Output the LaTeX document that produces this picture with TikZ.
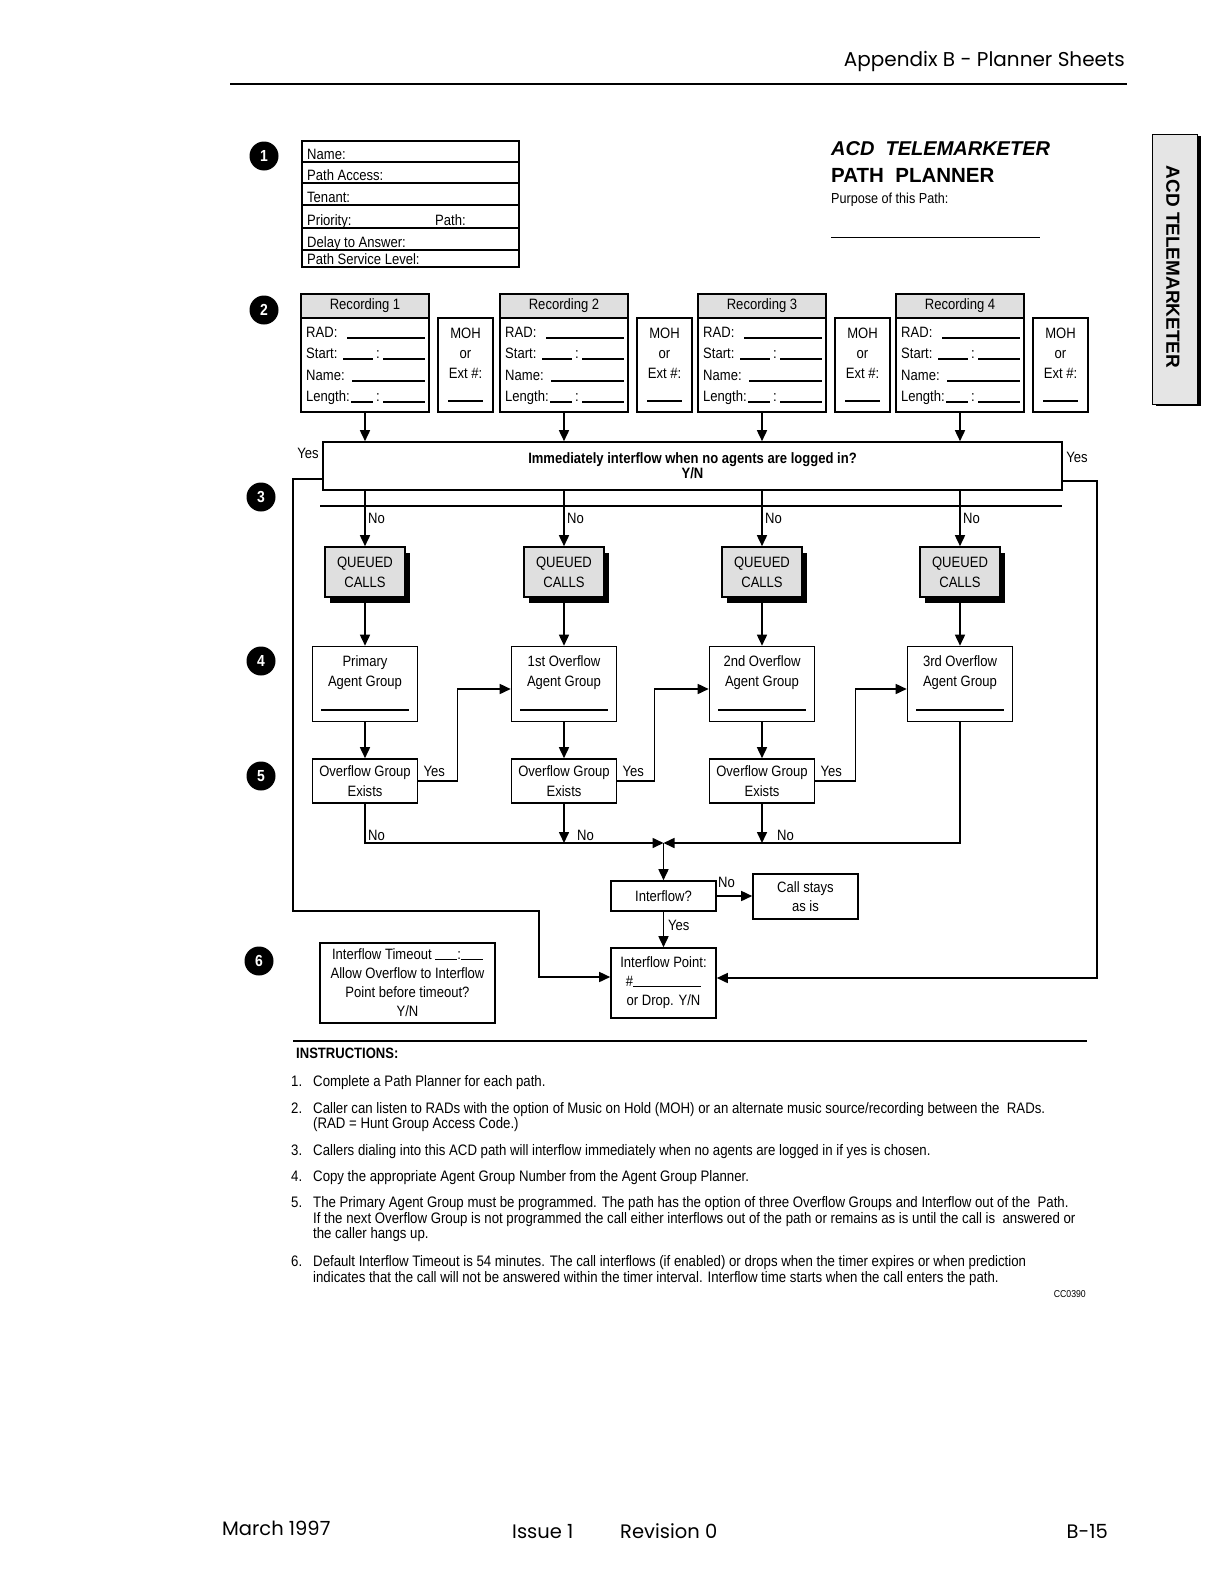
\documentclass[tikz,border=0pt]{standalone}
\usepackage{fontspec}
\setmainfont{Liberation Sans}[FakeStretch=0.87]
\newfontfamily\hdrfont{Poppins}
\newfontfamily\widefont{Liberation Sans}
\usetikzlibrary{arrows.meta,calc,shadows}
\newcommand\fmain{\fontsize{15}{20}\selectfont}
\newcommand\finst{\fontsize{15.2}{16}\selectfont}
\begin{document}
\begin{tikzpicture}[x=1pt,y=-1pt,
  lw/.style={line width=1.6pt},
  thin/.style={line width=1.2pt},
  arr/.style={line width=1.6pt,-{Triangle[length=11pt,width=10pt]}},
  box/.style={draw,line width=1.6pt,inner sep=0pt,align=center,font=\fmain},
  lbl/.style={font=\fmain,inner sep=0pt},
  ins/.style={font=\finst,inner sep=0pt,anchor=base west},
  num/.style={circle,fill=black,minimum size=29pt,inner sep=0pt,text=white,font=\bfseries\fontsize{16}{16}\selectfont},
  qbox/.style={box,fill=gray!25,minimum width=80pt,minimum height=50pt,drop shadow={shadow xshift=5pt,shadow yshift=-6pt,opacity=1,fill=black}},
  agent/.style={box,minimum width=105pt,minimum height=75pt},
  oebox/.style={box,minimum width=105pt,minimum height=44pt},
  foot/.style={font=\hdrfont\fontsize{19.5}{19.5}\selectfont,inner sep=0pt},
]
\useasboundingbox (0,0) rectangle (1213,1582);
\fill[white] (0,0) rectangle (1213,1582);

% header
\node[font=\hdrfont\fontsize{20}{20}\selectfont,anchor=base east,inner sep=0pt] (hdr) at (1125,66) {Appendix B - Planner Sheets};
\draw[line width=2pt] (230,84) -- (1127,84);

% side tab
\node[draw,line width=0.8pt,fill=gray!20,minimum width=45pt,minimum height=270pt,inner sep=0pt,
  drop shadow={shadow xshift=4pt,shadow yshift=-2pt,opacity=1,fill=black}] (tab) at (1174.5,269) {};
\node[rotate=-90,font=\widefont\bfseries\fontsize{19}{19}\selectfont,inner sep=0pt] (tabtxt) at (1173,267) {ACD TELEMARKETER};

% numbered circles
\node[num] (n1) at (264,156) {1};
\node[num] (n2) at (264,310) {2};
\node[num] (n3) at (261,497) {3};
\node[num] (n4) at (261,661) {4};
\node[num] (n5) at (261,776) {5};
\node[num] (n6) at (259,961) {6};

% form 1
\node[draw,line width=1.4pt,minimum width=217pt,minimum height=126pt,inner sep=0pt] (form) at (410.5,204) {};
\foreach \y in {162,183,205,228,250} \draw[thin] (302,\y) -- (519,\y);
\node[lbl,anchor=base west] (f1) at (307,159) {Name:};
\node[lbl,anchor=base west] (f2) at (307,180) {Path Access:};
\node[lbl,anchor=base west] (f3) at (307,202) {Tenant:};
\node[lbl,anchor=base west] (f4) at (307,225) {Priority:};
\node[lbl,anchor=base west] (f4b) at (435,225) {Path:};
\node[lbl,anchor=base west] (f5) at (307,247) {Delay to Answer:};
\node[lbl,anchor=base west] (f6) at (307,264) {Path Service Level:};

% title
\node[anchor=base west,inner sep=0pt,font=\widefont\bfseries\itshape\fontsize{20}{20}\selectfont] (t1) at (831,155) {ACD\ \ TELEMARKETER};
\node[anchor=base west,inner sep=0pt,font=\widefont\bfseries\fontsize{20.5}{20}\selectfont] (t2) at (831,182) {PATH\ \ PLANNER};
\node[lbl,anchor=base west,font=\fontsize{14.5}{16}\selectfont] (t3) at (831,203) {Purpose of this Path:};
\draw[line width=1pt] (831,237) -- (1040,237);

% immediate interflow box
\node[box,font=\bfseries\fontsize{15}{15}\selectfont,minimum width=739pt,minimum height=48pt] (imm) at (692.5,466) {Immediately interflow when no agents are logged in?\\Y/N};
\draw[lw] (320,506) -- (1062,506);
\node[lbl,anchor=base] (yesl) at (308,458) {Yes};
\node[lbl,anchor=base] (yesr) at (1077,462) {Yes};

% columns
\foreach \n/\c/\t in {1/365/Primary,2/564/1st Overflow,3/762/2nd Overflow,4/960/3rd Overflow} {
  \node[box,fill=gray!25,minimum width=128pt,minimum height=24pt] (rh\n) at (\c,306) {Recording \n};
  \node[box,minimum width=128pt,minimum height=94pt] (rb\n) at (\c,365) {};
  \node[box,minimum width=55pt,minimum height=94pt] (moh\n) at (\c+100.5,365) {};
  \node[lbl,anchor=base west] at (\c-59,337) {RAD:};
  \draw[thin] (\c-18,338) -- (\c+60,338);
  \node[lbl,anchor=base west] at (\c-59,358) {Start:};
  \draw[thin] (\c-22,359) -- (\c+8,359);
  \node[lbl,anchor=base] at (\c+13,358) {:};
  \draw[thin] (\c+18,359) -- (\c+60,359);
  \node[lbl,anchor=base west] at (\c-59,380) {Name:};
  \draw[thin] (\c-13,381) -- (\c+60,381);
  \node[lbl,anchor=base west] at (\c-59,401) {Length:};
  \draw[thin] (\c-14,402) -- (\c+8,402);
  \node[lbl,anchor=base] at (\c+13,401) {:};
  \draw[thin] (\c+18,402) -- (\c+60,402);
  \node[lbl,align=center] at (\c+100.5,353) {MOH\\or\\Ext \#:};
  \draw[thin] (\c+83,401) -- (\c+118,401);
  \draw[arr] (rb\n.south) -- (rb\n.south |- imm.north);
  \node[qbox] (q\n) at (\c,572) {QUEUED\\CALLS};
  \draw[arr] (imm.south -| q\n.north) -- (q\n.north);
  \node[lbl,anchor=base west] at (\c+3,523) {No};
  \node[agent] (a\n) at (\c,684) {};
  \node[lbl,align=center] at (\c,673) {\t\\Agent Group};
  \draw[lw] (\c-44,710) -- (\c+44,710);
  \draw[arr] (q\n.south) -- (a\n.north);
}

% overflow exists
\foreach \n/\c in {1/365,2/564,3/762} {
  \node[oebox] (oe\n) at (\c,781) {Overflow Group\\Exists};
  \draw[arr] (a\n.south) -- (oe\n.north);
  \node[lbl,anchor=base west] at ($(oe\n.east)+(5,-5)$) {Yes};
}
\draw[arr] (oe1.east) -- ++(39,0) |- ($(a2.west)+(0,5)$);
\draw[arr] (oe2.east) -- ++(37,0) |- ($(a3.west)+(0,5)$);
\draw[arr] (oe3.east) -- ++(40,0) |- ($(a4.west)+(0,5)$);

% interflow section
\coordinate (J) at (663.5,843);
\node[box,minimum width=105pt,minimum height=30pt] (ifl) at (663.5,896) {Interflow?};
\node[box,minimum width=105pt,minimum height=45pt,font=\fontsize{15}{19}\selectfont] (cs) at (805.5,896.5) {Call stays\\as is};
\node[box,minimum width=105pt,minimum height=70pt,font=\fontsize{15}{19}\selectfont] (ip) at (663.5,983) {Interflow Point:\\\#\rule{68pt}{1.2pt}\\or Drop. Y/N};
\node[box,minimum width=175pt,minimum height=80pt,font=\fontsize{15}{19}\selectfont] (ito) at (407.5,983) {Interflow Timeout \rule{22pt}{1.2pt}:\rule{22pt}{1.2pt}\\Allow Overflow to Interflow\\Point before timeout?\\Y/N};

\draw[arr] (oe1.south) |- (J);
\draw[arr] (oe2.south) -- (oe2.south |- J);
\draw[arr] (oe3.south) -- (oe3.south |- J);
\draw[arr] (a4.south) |- (J);
\node[lbl,anchor=base west] at (368,840) {No};
\node[lbl,anchor=base west] at (577,840) {No};
\node[lbl,anchor=base west] at (777,840) {No};
\draw[arr] (J) -- (ifl.north);
\draw[arr] (ifl.east) -- (cs.west |- ifl.east);
\node[lbl,anchor=base west] at (718,887) {No};
\draw[arr] (ifl.south) -- (ip.north);
\node[lbl,anchor=base west] at (668,930) {Yes};

\coordinate (L1) at (293,911);
\coordinate (L2) at (539,977);
\draw[arr] ($(imm.west)+(0,13)$) -| (L1) -| (L2) -- ($(ip.west)+(0,-6)$);
\coordinate (R1) at (1097,978);
\draw[arr] ($(imm.east)+(0,15)$) -| (R1) -- ($(ip.east)+(0,-5)$);

% instructions
\draw[lw] (293,1041) -- (1087,1041);
\node[ins,font=\bfseries\fontsize{15}{16}\selectfont] (insh) at (296,1058) {INSTRUCTIONS:};
\node[ins] at (291,1086) {1.};
\node[ins] at (313,1086) {Complete a Path Planner for each path.};
\node[ins] at (291,1113) {2.};
\node[ins] at (313,1113) {Caller can listen to RADs with the option of Music on Hold (MOH) or an alternate music source/recording between the\ \ RADs.};
\node[ins] at (313,1128) {(RAD = Hunt Group Access Code.)};
\node[ins] at (291,1155) {3.};
\node[ins] at (313,1155) {Callers dialing into this ACD path will interflow immediately when no agents are logged in if yes is chosen.};
\node[ins] at (291,1181) {4.};
\node[ins] at (313,1181) {Copy the appropriate Agent Group Number from the Agent Group Planner.};
\node[ins] at (291,1207) {5.};
\node[ins] at (313,1207) {The Primary Agent Group must be programmed. The path has the option of three Overflow Groups and Interflow out of the\ \ Path.};
\node[ins] at (313,1223) {If the next Overflow Group is not programmed the call either interflows out of the path or remains as is until the call is\ \ answered or};
\node[ins] at (313,1238) {the caller hangs up.};
\node[ins] at (291,1266) {6.};
\node[ins] at (313,1266) {Default Interflow Timeout is 54 minutes. The call interflows (if enabled) or drops when the timer expires or when prediction};
\node[ins] at (313,1282) {indicates that the call will not be answered within the timer interval. Interflow time starts when the call enters the path.};
\node[font=\fontsize{10}{10}\selectfont,inner sep=0pt,anchor=base east] (cc) at (1086,1297) {CC0390};

% footer
\node[foot,anchor=base west] (fm) at (222,1535) {March 1997};
\node[foot,anchor=base west] (fi) at (512,1538) {Issue 1};
\node[foot,anchor=base west] (fr) at (620,1538) {Revision 0};
\node[foot,anchor=base east] (fb) at (1108,1538) {B-15};
\end{tikzpicture}
\end{document}
